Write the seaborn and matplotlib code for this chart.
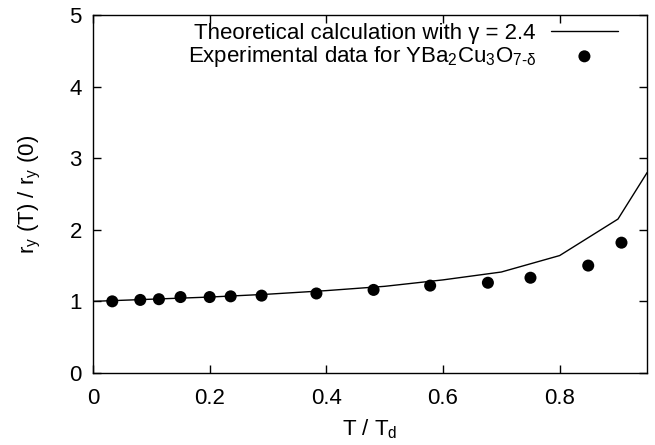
import matplotlib
matplotlib.use("Agg")
import matplotlib.pyplot as plt
import seaborn as sns
import pandas as pd

# Theoretical curve
theory_x = [0.0, 0.1, 0.2, 0.3, 0.4, 0.5, 0.6, 0.7, 0.8, 0.9, 0.95]
theory_y = [1.00, 1.03, 1.06, 1.10, 1.15, 1.21, 1.30, 1.41, 1.64, 2.15, 2.80]

# Experimental data
exp_x = [0.033, 0.081, 0.113, 0.150, 0.200, 0.236, 0.289, 0.383, 0.481, 0.578,
         0.677, 0.750, 0.849, 0.906]
exp_y = [1.00, 1.02, 1.03, 1.06, 1.06, 1.07, 1.08, 1.11, 1.16, 1.22,
         1.26, 1.33, 1.50, 1.82]

x_ticks = [0, 0.2, 0.4, 0.6, 0.8]
x_ticklabels = ["0", "0.2", "0.4", "0.6", "0.8"]
y_ticks = [0, 1, 2, 3, 4, 5]

theory_label = "Theoretical calculation with γ = 2.4"
exp_label = r"Experimental data for YBa$_2$Cu$_3$O$_{7\text{-}\delta}$"

sns.set_theme(style="ticks")
plt.rcParams["font.family"] = ["Liberation Sans", "DejaVu Sans"]
plt.rcParams["mathtext.fontset"] = "custom"
plt.rcParams["mathtext.rm"] = "Liberation Sans"
plt.rcParams["mathtext.it"] = "Liberation Sans"
plt.rcParams["mathtext.sf"] = "Liberation Sans"
plt.rcParams["text.color"] = "black"

FS = 16

fig = plt.figure(figsize=(6.55, 4.45), dpi=100)
ax = fig.add_axes([0.142, 0.162, 0.846, 0.804])

df_t = pd.DataFrame({"x": theory_x, "y": theory_y})
df_e = pd.DataFrame({"x": exp_x, "y": exp_y})

sns.lineplot(data=df_t, x="x", y="y", ax=ax, color="black", linewidth=1.0,
             label=theory_label, sort=False)
sns.scatterplot(data=df_e, x="x", y="y", ax=ax, color="black", s=75,
                edgecolor="none", label=exp_label)

ax.set_xlim(0, 0.95)
ax.set_ylim(0, 5)
ax.set_xticks(x_ticks)
ax.set_xticklabels(x_ticklabels)
ax.set_yticks(y_ticks)
ax.tick_params(direction="in", length=6, width=1, top=True, right=True,
               labelsize=FS, colors="black")
ax.tick_params(axis="x", pad=11)
ax.tick_params(axis="y", pad=8)
for s in ax.spines.values():
    s.set_visible(True)
    s.set_linewidth(1.0)
    s.set_color("black")

ax.set_xlabel(r"T / T$_\mathrm{d}$", fontsize=FS, labelpad=6, color="black")
ax.set_ylabel(r"r$_\mathrm{y}$ (T) / r$_\mathrm{y}$ (0)", fontsize=FS,
              labelpad=19, color="black")

leg = ax.legend(loc="upper right", bbox_to_anchor=(0.955, 0.99),
                frameon=False, markerfirst=False,
                fontsize=FS, handlelength=3.0, handletextpad=0.68,
                borderaxespad=0.0, labelspacing=0.0, borderpad=0.2)
leg._legend_box.align = "right"
for t in leg.get_texts():
    t.set_color("black")

fig.savefig("out.png", dpi=100)
